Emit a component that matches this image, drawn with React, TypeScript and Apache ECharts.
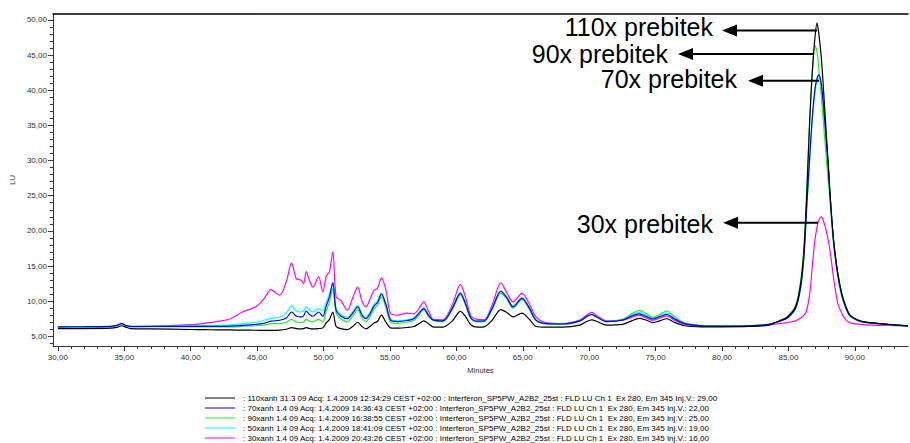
import React, { useEffect, useRef } from "react";
import * as echarts from "echarts";

const FONT = "'Liberation Sans', Arial, sans-serif";

// Retention time (minutes)
const minutes = [
  30, 32, 34, 34.5, 34.8, 35.1, 35.5, 37, 40, 41,
  42, 43, 43.9, 44.9, 45.5, 46.05, 46.7, 47.2, 47.6, 47.95,
  48.3, 48.5, 48.7, 48.95, 49.2, 49.63, 49.95, 50.2, 50.45, 50.7,
  50.95, 51.3, 51.8, 52.2, 52.57, 52.9, 53.2, 53.5, 53.8, 54.06,
  54.36, 54.7, 55.06, 55.6, 56.3, 56.8, 57.2, 57.55, 57.9, 58.3,
  59.0, 59.7, 60.3, 60.7, 61.1, 61.6, 62.1, 62.7, 63.35, 63.8,
  64.27, 64.94, 65.5, 66.0, 66.8, 68.0, 69.3, 69.8, 70.2, 70.6,
  71.3, 72.5, 73.2, 73.75, 74.3, 74.8, 75.3, 75.85, 76.4, 77.2,
  78.5, 80, 82, 83.5, 84.42, 84.92, 85.54, 85.92, 86.17, 86.36,
  86.6, 86.8, 87.0, 87.15, 87.3, 87.48, 87.65, 87.8, 88.0, 88.16,
  88.4, 88.7, 89.0, 89.3, 89.65, 90.4, 91.2, 92.5, 94,
];

// LU signal, 110x (black)
const lu110x = [
  6.1, 6.1, 6.15, 6.3, 6.5, 6.3, 6.1, 6.05, 5.97, 5.95,
  5.92, 5.9, 5.88, 5.86, 5.85, 5.85, 5.88, 6.0, 6.24, 6.1,
  6.05, 6.1, 6.24, 6.1, 6.05, 6.1, 6.2, 6.9, 7.4, 8.46,
  6.4, 6.1, 5.95, 6.4, 7.0, 6.4, 6.05, 6.4, 6.9, 7.1,
  8.0, 7.0, 6.2, 6.15, 6.25, 6.4, 6.8, 7.2, 6.8, 6.3,
  6.3, 7.2, 8.55, 7.8, 6.6, 6.3, 6.35, 7.3, 8.8, 8.4,
  7.75, 8.3, 7.4, 6.4, 6.3, 6.3, 6.6, 7.1, 7.35, 7.1,
  6.6, 6.7, 7.2, 7.55, 7.3, 6.95, 7.2, 7.5, 7.0, 6.5,
  6.35, 6.35, 6.4, 6.6, 7.28, 7.75, 9.2, 12.5, 17.25, 24.4,
  35.8, 42.8, 47.6, 49.6, 47.8, 44.5, 39.8, 35.3, 29.5, 24.4,
  18.7, 14.2, 11.2, 9.4, 8.0, 7.2, 6.95, 6.7, 6.47,
];

// LU signal, 70x (blue)
const lu70x = [
  6.35, 6.37, 6.4, 6.6, 6.85, 6.55, 6.4, 6.4, 6.42, 6.42,
  6.42, 6.45, 6.55, 6.7, 6.85, 7.15, 7.28, 7.6, 8.46, 7.85,
  7.75, 7.9, 8.6, 8.1, 7.85, 8.46, 7.85, 9.3, 10.6, 12.6,
  8.7, 7.9, 7.5, 8.3, 9.2, 8.0, 7.5, 8.2, 9.3, 9.8,
  11.0, 9.5, 7.3, 7.1, 7.25, 7.5, 8.3, 8.95, 8.0, 7.3,
  7.2, 9.0, 11.1, 9.6, 7.6, 7.15, 7.2, 9.0, 11.4, 10.5,
  9.2, 10.4, 9.0, 7.3, 6.8, 6.75, 7.2, 7.8, 8.1, 7.7,
  7.1, 7.3, 7.9, 8.2, 7.8, 7.45, 7.8, 8.1, 7.5, 6.8,
  6.5, 6.45, 6.5, 6.7, 7.2, 7.6, 9.0, 12.0, 16.5, 23.0,
  30.5, 36.3, 40.2, 41.7, 42.2, 40.8, 37.5, 34.0, 29.0, 24.4,
  18.5, 14.0, 11.0, 9.2, 7.9, 7.15, 6.9, 6.7, 6.47,
];

// LU signal, 90x (green)
const lu90x = [
  6.33, 6.35, 6.38, 6.55, 6.75, 6.5, 6.38, 6.38, 6.35, 6.35,
  6.33, 6.33, 6.4, 6.5, 6.6, 6.8, 6.8, 7.0, 7.42, 7.04,
  6.95, 7.05, 7.42, 7.15, 7.04, 7.42, 7.04, 8.6, 9.9, 11.8,
  8.3, 7.5, 7.05, 7.9, 8.8, 7.6, 7.1, 7.8, 8.9, 9.4,
  10.6, 9.1, 7.0, 6.85, 7.0, 7.25, 8.05, 8.8, 7.8, 7.2,
  7.1, 8.8, 10.9, 9.4, 7.5, 7.05, 7.1, 8.8, 11.1, 10.3,
  9.0, 10.2, 8.8, 7.2, 6.75, 6.7, 7.2, 7.8, 8.1, 7.7,
  7.1, 7.4, 8.2, 8.7, 8.2, 7.7, 8.1, 8.6, 7.8, 6.9,
  6.5, 6.45, 6.5, 6.7, 7.3, 7.8, 9.4, 12.9, 18.0, 25.0,
  35.5, 42.5, 46.4, 45.5, 42.8, 39.0, 35.0, 31.5, 27.0, 23.5,
  18.0, 13.6, 10.8, 9.1, 7.85, 7.1, 6.85, 6.65, 6.45,
];

// LU signal, 50x (cyan)
const lu50x = [
  6.33, 6.35, 6.38, 6.55, 6.75, 6.5, 6.38, 6.4, 6.5, 6.55,
  6.55, 6.6, 6.8, 7.0, 7.25, 7.55, 7.75, 8.3, 9.32, 8.6,
  8.46, 8.6, 9.18, 8.7, 8.46, 8.94, 8.6, 9.9, 11.0, 12.7,
  8.9, 8.1, 7.7, 8.5, 9.4, 8.2, 7.7, 8.4, 9.5, 10.0,
  11.1, 9.6, 7.4, 7.2, 7.35, 7.6, 8.4, 9.05, 8.05, 7.35,
  7.2, 9.1, 11.2, 9.7, 7.6, 7.15, 7.2, 9.1, 11.45, 10.55,
  9.3, 10.5, 9.1, 7.35, 6.8, 6.75, 7.2, 7.8, 8.1, 7.7,
  7.1, 7.35, 8.0, 8.4, 8.0, 7.55, 7.9, 8.3, 7.6, 6.85,
  6.5, 6.45, 6.5, 6.7, 7.2, 7.6, 9.0, 11.9, 16.3, 22.6,
  30.0, 35.8, 39.8, 41.3, 41.8, 40.5, 37.3, 33.8, 28.8, 24.2,
  18.4, 13.9, 10.9, 9.1, 7.85, 7.1, 6.9, 6.7, 6.47,
];

// LU signal, 30x (magenta)
const lu30x = [
  6.33, 6.35, 6.38, 6.55, 6.75, 6.5, 6.38, 6.4, 6.65, 6.85,
  7.1, 7.5, 8.46, 9.2, 10.3, 11.65, 10.84, 12.8, 15.4, 13.2,
  13.0, 12.5, 14.2, 12.9, 12.0, 13.45, 11.3, 13.5, 14.2, 17.0,
  10.6, 10.1, 8.7, 10.5, 12.0, 10.0, 9.2, 10.3, 11.55, 11.8,
  13.3, 11.6, 8.2, 8.0, 8.3, 8.2, 9.0, 9.9, 8.6, 7.4,
  7.35, 9.5, 12.4, 10.5, 7.9, 7.4, 7.35, 9.5, 12.6, 11.2,
  9.9, 11.1, 9.6, 7.75, 6.9, 6.8, 7.3, 8.0, 8.4, 7.9,
  7.2, 7.3, 7.7, 8.0, 7.6, 7.25, 7.6, 7.9, 7.3, 6.7,
  6.45, 6.4, 6.45, 6.6, 6.85, 6.95, 7.2, 7.6, 8.0, 8.6,
  11.0, 15.0, 18.8, 20.5, 21.6, 22.0, 21.3, 20.4, 18.6, 16.8,
  13.3, 9.8, 8.3, 7.4, 6.9, 6.7, 6.6, 6.55, 6.5,
];

const seriesNames = [
  ": 110xanh 31.3 09 Acq: 1.4.2009 12:34:29 CEST +02:00 : Interferon_SP5PW_A2B2_25st : FLD LU Ch 1  Ex 280, Em 345 Inj.V.: 29,00",
  ": 70xanh 1.4 09 Acq: 1.4.2009 14:36:43 CEST +02:00 : Interferon_SP5PW_A2B2_25st : FLD LU Ch 1  Ex 280, Em 345 Inj.V.: 22,00",
  ": 90xanh 1.4 09 Acq: 1.4.2009 16:38:55 CEST +02:00 : Interferon_SP5PW_A2B2_25st : FLD LU Ch 1  Ex 280, Em 345 Inj.V.: 25,00",
  ": 50xanh 1.4 09 Acq: 1.4.2009 18:41:09 CEST +02:00 : Interferon_SP5PW_A2B2_25st : FLD LU Ch 1  Ex 280, Em 345 Inj.V.: 19,00",
  ": 30xanh 1.4 09 Acq: 1.4.2009 20:43:26 CEST +02:00 : Interferon_SP5PW_A2B2_25st : FLD LU Ch 1  Ex 280, Em 345 Inj.V.: 16,00",
];
const seriesValues = [lu110x, lu70x, lu90x, lu50x, lu30x];
const seriesColors = ["#000000", "#0000ff", "#22ee22", "#00ffff", "#ff00ff"];
const seriesZ = [7, 6, 5, 4, 3];

const xTickValues = [30, 35, 40, 45, 50, 55, 60, 65, 70, 75, 80, 85, 90];
const yTickValues = [5, 10, 15, 20, 25, 30, 35, 40, 45, 50];

const annotationLabels = ["110x prebitek", "90x prebitek", "70x prebitek", "30x prebitek"];

const X_MIN = 29.63;
const X_MAX = 94;
const Y_MIN = 3.62;
const Y_MAX = 50.85;

const minorX: number[] = [];
for (let v = 30; v <= 93; v++) if (v % 5 !== 0) minorX.push(v);
const minorY: number[] = [];
for (let v = 4; v <= 50; v++) if (v % 5 !== 0) minorY.push(v);

const fmt = (v: number) => v.toFixed(2).replace(".", ",");

const annotationPos = [
  { textX: 713, textY: 26.5, tipX: 722, endX: 817, arrowY: 30.5 },
  { textX: 668, textY: 54, tipX: 678, endX: 813, arrowY: 54 },
  { textX: 737, textY: 79, tipX: 748, endX: 819, arrowY: 80.7 },
  { textX: 713, textY: 224, tipX: 723, endX: 818, arrowY: 222.7 },
];

function buildGraphic() {
  const els: any[] = [];
  annotationLabels.forEach((label, i) => {
    const p = annotationPos[i];
    els.push({
      type: "text",
      x: p.textX,
      y: p.textY,
      z: 100,
      style: {
        text: label,
        fill: "#000",
        font: `25px ${FONT}`,
        align: "right",
        verticalAlign: "middle",
      },
    });
    els.push({
      type: "line",
      z: 100,
      shape: { x1: p.tipX + 12, y1: p.arrowY, x2: p.endX, y2: p.arrowY },
      style: { stroke: "#000", lineWidth: 2 },
    });
    els.push({
      type: "polygon",
      z: 100,
      shape: {
        points: [
          [p.tipX, p.arrowY],
          [p.tipX + 15, p.arrowY - 6],
          [p.tipX + 15, p.arrowY + 6],
        ],
      },
      style: { fill: "#000" },
    });
  });
  return els;
}

function buildOption() {
  const axisGrey = "#333";
  const series = seriesNames.map((name, i) => ({
    type: "line",
    name,
    data: minutes.map((t, j) => [t, seriesValues[i][j]]),
    showSymbol: false,
    smooth: 0.3,
    z: seriesZ[i],
    lineStyle: { color: seriesColors[i], width: 1.2 },
    itemStyle: { color: seriesColors[i] },
    emphasis: { disabled: true },
  }));
  return {
    animation: false,
    backgroundColor: "#ffffff",
    textStyle: { fontFamily: FONT },
    grid: { left: 46, right: 2, top: 14, bottom: 97, containLabel: false },
    xAxis: [
      {
        type: "value",
        min: X_MIN,
        max: X_MAX,
        name: "Minutes",
        nameLocation: "middle",
        nameGap: 20,
        nameTextStyle: { fontSize: 7.5, color: axisGrey, fontFamily: FONT },
        axisLine: { show: true, onZero: false, lineStyle: { color: axisGrey, width: 1 } },
        axisTick: { show: true, customValues: xTickValues, length: 5, lineStyle: { color: axisGrey } },
        axisLabel: {
          customValues: xTickValues,
          formatter: fmt,
          fontSize: 8,
          color: axisGrey,
          margin: 7,
          fontFamily: FONT,
        },
        splitLine: { show: false },
      },
      {
        type: "value",
        min: X_MIN,
        max: X_MAX,
        position: "bottom",
        axisLine: { show: false, onZero: false },
        axisTick: { show: true, customValues: minorX, length: 3, lineStyle: { color: axisGrey } },
        axisLabel: { show: false },
        splitLine: { show: false },
      },
      {
        type: "value",
        min: X_MIN,
        max: X_MAX,
        position: "top",
        axisLine: { show: true, onZero: false, lineStyle: { color: "#000", width: 1.5 } },
        axisTick: { show: false },
        axisLabel: { show: false },
        splitLine: { show: false },
      },
    ],
    yAxis: [
      {
        type: "value",
        min: Y_MIN,
        max: Y_MAX,
        name: "LU",
        nameLocation: "middle",
        nameGap: 30,
        nameRotate: 90,
        nameTextStyle: { fontSize: 8, color: axisGrey, fontFamily: FONT },
        axisLine: { show: true, onZero: false, lineStyle: { color: axisGrey, width: 1 } },
        axisTick: { show: true, customValues: yTickValues, length: 5, lineStyle: { color: axisGrey } },
        axisLabel: {
          customValues: yTickValues,
          formatter: fmt,
          fontSize: 8,
          color: axisGrey,
          margin: 6,
          fontFamily: FONT,
        },
        splitLine: { show: false },
      },
      {
        type: "value",
        min: Y_MIN,
        max: Y_MAX,
        position: "left",
        axisLine: { show: false, onZero: false },
        axisTick: { show: true, customValues: minorY, length: 3, lineStyle: { color: axisGrey } },
        axisLabel: { show: false },
        splitLine: { show: false },
      },
    ],
    legend: {
      orient: "vertical",
      left: 205,
      top: 393,
      padding: 0,
      itemWidth: 30,
      itemHeight: 1,
      itemGap: 0,
      icon: "rect",
      selectedMode: false,
      textStyle: { fontSize: 8, color: "#000", lineHeight: 10, padding: [0, 0, 0, 3], fontFamily: FONT },
      data: seriesNames,
    },
    series,
    graphic: buildGraphic(),
  };
}

export default function App() {
  const ref = useRef<HTMLDivElement>(null);
  useEffect(() => {
    if (!ref.current) return;
    const chart = echarts.init(ref.current, null, { renderer: "svg" });
    chart.setOption(buildOption() as any);
    return () => chart.dispose();
  }, []);
  return (
    <div
      ref={ref}
      style={{ position: "absolute", left: 0, top: 0, width: 910, height: 443, background: "#fff" }}
    />
  );
}
